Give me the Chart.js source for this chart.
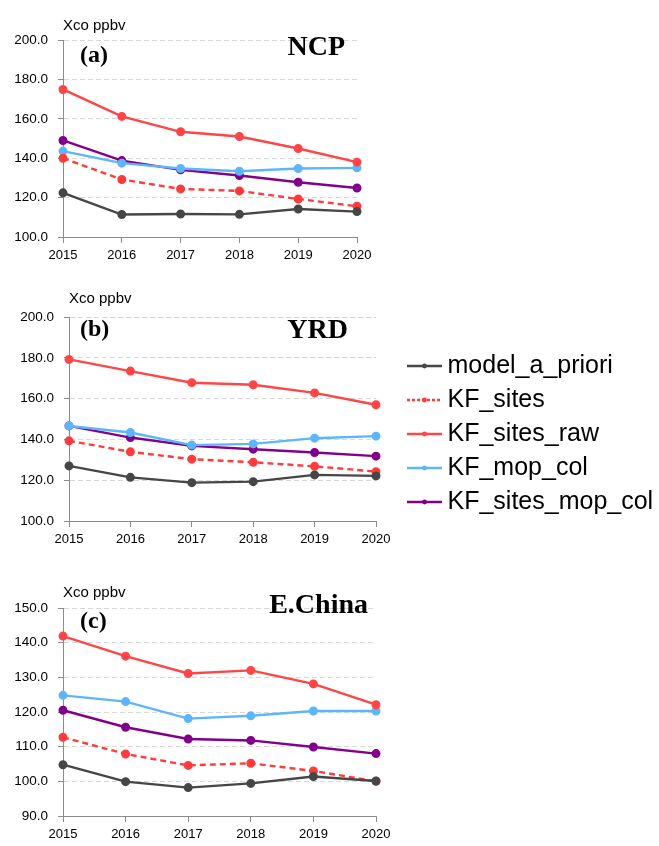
<!DOCTYPE html>
<html>
<head>
<meta charset="utf-8">
<script src="https://cdn.jsdelivr.net/npm/chart.js@4"></script>
<style>
  html, body { margin: 0; padding: 0; background: #ffffff; }
  body { width: 659px; height: 846px; position: relative; overflow: hidden; }
  canvas { position: absolute; left: 0; }
  #ca { top: 0px; }
  #cb { top: 280px; }
  #cc { top: 570px; }
</style>
</head>
<body>
<canvas id="ca" width="400" height="267" style="width:400px;height:267px"></canvas>
<canvas id="cb" width="659" height="290" style="width:659px;height:290px"></canvas>
<canvas id="cc" width="400" height="276" style="width:400px;height:276px"></canvas>
<script>
// ---------------- data ----------------
const years = ['2015', '2016', '2017', '2018', '2019', '2020'];
const seriesNames = ['model_a_priori', 'KF_sites', 'KF_sites_raw', 'KF_mop_col', 'KF_sites_mop_col'];

// (a) NCP
const ncpModelAPriori   = [122.4, 111.4, 111.7, 111.5, 114.2, 112.9];
const ncpKFSites        = [140.0, 129.2, 124.4, 123.4, 119.3, 115.6];
const ncpKFSitesRaw     = [174.9, 161.2, 153.4, 151.0, 144.9, 138.0];
const ncpKFMopCol       = [143.6, 137.5, 134.8, 133.4, 134.8, 135.1];
const ncpKFSitesMopCol  = [149.0, 138.8, 134.1, 131.2, 127.8, 124.9];

// (b) YRD
const yrdModelAPriori   = [127.0, 121.4, 118.8, 119.3, 122.6, 122.1];
const yrdKFSites        = [139.3, 133.9, 130.3, 128.8, 126.8, 124.2];
const yrdKFSitesRaw     = [179.2, 173.5, 167.8, 166.8, 162.8, 157.0];
const yrdKFMopCol       = [146.6, 143.4, 137.2, 137.8, 140.6, 141.6];
const yrdKFSitesMopCol  = [146.6, 140.9, 136.8, 135.2, 133.6, 131.8];

// (c) E.China
const ecModelAPriori    = [104.8, 99.9, 98.2, 99.4, 101.4, 100.1];
const ecKFSites         = [112.7, 107.9, 104.6, 105.2, 103.0, 100.0];
const ecKFSitesRaw      = [141.9, 136.1, 131.1, 132.0, 128.1, 122.1];
const ecKFMopCol        = [124.8, 123.0, 118.1, 118.9, 120.3, 120.3];
const ecKFSitesMopCol   = [120.5, 115.6, 112.2, 111.8, 109.9, 108.0];

// y-axis tick values per panel
const yTicksA = [100, 120, 140, 160, 180, 200];
const yTicksB = [100, 120, 140, 160, 180, 200];
const yTicksC = [90, 100, 110, 120, 130, 140, 150];

const axisTitle = 'Xco ppbv';
const panelLabels = ['(a)', '(b)', '(c)'];
const regionNames = ['NCP', 'YRD', 'E.China'];

// ---------------- styles ----------------
const colors = ['#464646', '#ff3b3b', '#ff4545', '#5db6fc', '#82008a'];
const dashes = [[], [6, 4], [], [], []];
const SANS = '"Liberation Sans", Arial, Helvetica, sans-serif';
const SERIF = '"Liberation Serif", "Times New Roman", serif';

function buildDatasets(arrs) {
  return arrs.map((d, i) => ({
    label: seriesNames[i],
    data: d,
    borderColor: colors[i],
    backgroundColor: colors[i],
    pointBackgroundColor: colors[i],
    pointBorderColor: colors[i],
    borderWidth: 2.4,
    borderDash: dashes[i],
    pointRadius: 3.3,
    pointHoverRadius: 3.3,
    tension: 0
  }));
}

// text annotation plugin (axis title, panel label, region name)
const panelTextPlugin = {
  id: 'panelText',
  afterDraw(chart, args, opts) {
    const ctx = chart.ctx;
    const a = chart.chartArea;
    ctx.save();
    (opts.items || []).forEach(it => {
      ctx.font = it.font;
      ctx.fillStyle = it.color || '#000';
      ctx.textAlign = it.align || 'left';
      ctx.textBaseline = it.baseline || 'alphabetic';
      const x = it.from === 'right' ? a.right + it.dx : a.left + it.dx;
      const y = a.top + it.dy;
      ctx.fillText(it.text, x, y);
    });
    ctx.restore();
  }
};

function legendSample(i) {
  const c = document.createElement('canvas');
  c.width = 35; c.height = 8;
  const g = c.getContext('2d');
  g.strokeStyle = colors[i];
  g.lineWidth = 2.4;
  g.setLineDash(i === 1 ? [3, 2] : []);
  g.beginPath(); g.moveTo(0, 4); g.lineTo(35, 4); g.stroke();
  g.fillStyle = colors[i];
  g.beginPath(); g.arc(17.5, 4, 2.4, 0, Math.PI * 2); g.fill();
  return c;
}

function makeChart(id, arrs, yTicks, yWidth, padding, texts, withLegend) {
  const yMin = yTicks[0], yMax = yTicks[yTicks.length - 1];
  const scales = {
    x: {
      type: 'category',
      labels: years,
      offset: false,
      grid: { drawOnChartArea: false, drawTicks: true, tickLength: 6, tickColor: '#8c8c8c', tickWidth: 1 },
      border: { display: true, color: '#8c8c8c', width: 1 },
      ticks: { color: '#000', font: { family: SANS, size: 13 }, padding: 5, maxRotation: 0, autoSkip: false },
      afterFit: s => { s.height = 30; }
    },
    y: {
      type: 'linear',
      min: yMin, max: yMax,
      afterBuildTicks: s => { s.ticks = yTicks.map(v => ({ value: v })); },
      grid: {
        color: c => (c.tick && c.tick.value === yMin) ? 'rgba(0,0,0,0)' : '#d9d9d9',
        lineWidth: 1,
        drawTicks: true, tickLength: 5, tickColor: '#8c8c8c', tickWidth: 1, tickBorderDash: []
      },
      border: { display: true, color: '#8c8c8c', width: 1, dash: [5, 3] },
      ticks: { color: '#000', font: { family: SANS, size: 13.5 }, padding: 10, callback: v => Number(v).toFixed(1) },
      afterFit: s => { s.width = yWidth; }
    }
  };
  if (withLegend) {
    scales.ySpacer = {
      type: 'linear', position: 'right', display: true,
      grid: { display: false, drawTicks: false }, border: { display: false },
      ticks: { display: false },
      afterFit: s => { s.width = 29; }
    };
  }
  return new Chart(document.getElementById(id), {
    type: 'line',
    data: { labels: years, datasets: buildDatasets(arrs) },
    options: {
      responsive: false,
      animation: false,
      events: [],
      layout: { padding: padding },
      scales: scales,
      plugins: {
        tooltip: { enabled: false },
        title: { display: false },
        legend: withLegend ? {
          display: true,
          position: 'right',
          align: 'center',
          maxWidth: 252,
          labels: {
            usePointStyle: true,
            pointStyleWidth: 21,
            padding: 9,
            color: '#000',
            font: { family: SANS, size: 25 },
            generateLabels: chart => chart.data.datasets.map((ds, i) => ({
              text: ds.label,
              pointStyle: legendSample(i),
              fillStyle: colors[i],
              strokeStyle: colors[i],
              lineWidth: 0,
              hidden: false,
              datasetIndex: i,
              fontColor: '#000'
            }))
          }
        } : { display: false },
        panelText: { items: texts }
      }
    },
    plugins: [panelTextPlugin]
  });
}

function texts(idx, titleDy, lab, reg) {
  return [
    { text: axisTitle, font: '15px ' + SANS, from: 'left', dx: 0, dy: titleDy, align: 'left', baseline: 'alphabetic' },
    { text: panelLabels[idx], font: 'bold 24px ' + SERIF, from: 'left', dx: lab[0], dy: lab[1], align: 'left', baseline: 'middle' },
    { text: regionNames[idx], font: 'bold 28px ' + SERIF, from: 'right', dx: reg[0], dy: reg[1], align: 'right', baseline: 'alphabetic' }
  ];
}

makeChart('ca',
  [ncpModelAPriori, ncpKFSites, ncpKFSitesRaw, ncpKFMopCol, ncpKFSitesMopCol],
  yTicksA, 63, { top: 40, right: 43, bottom: 0, left: 0 },
  texts(0, -10, [17, 16], [-12, 15]), false);

makeChart('cb',
  [yrdModelAPriori, yrdKFSites, yrdKFSitesRaw, yrdKFMopCol, yrdKFSitesMopCol],
  yTicksB, 69, { top: 37, right: 2, bottom: 19, left: 0 },
  texts(1, -14, [11, 13], [-28, 21]), true);

makeChart('cc',
  [ecModelAPriori, ecKFSites, ecKFSitesRaw, ecKFMopCol, ecKFSitesMopCol],
  yTicksC, 63, { top: 38, right: 24, bottom: 0, left: 0 },
  texts(2, -11, [17, 14], [-8, 5]), false);
</script>
</body>
</html>
